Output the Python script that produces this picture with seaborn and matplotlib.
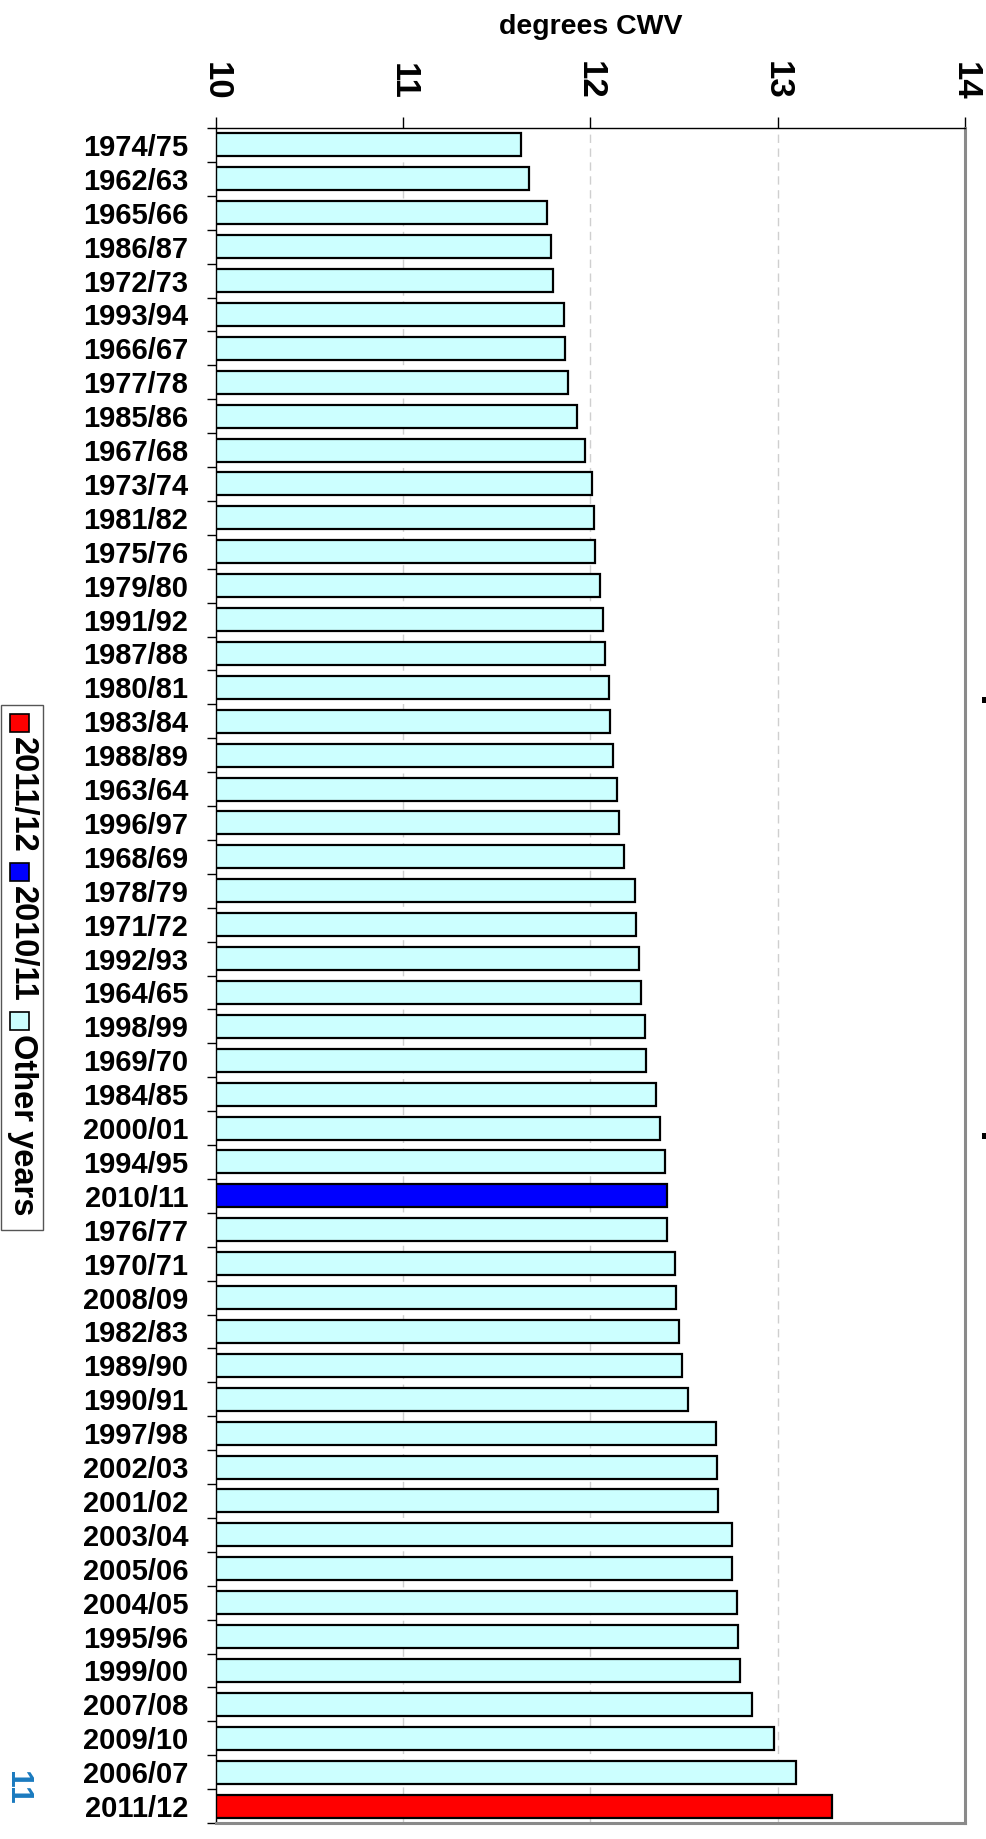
import numpy as np
import pandas as pd
import matplotlib
matplotlib.use("Agg")
import matplotlib.pyplot as plt
from matplotlib.patches import Rectangle
from matplotlib.ticker import FixedLocator
import seaborn as sns

# winters sorted from coldest (top) to mildest (bottom)
winters = ['1974/75', '1962/63', '1965/66', '1986/87', '1972/73', '1993/94', '1966/67',
           '1977/78', '1985/86', '1967/68', '1973/74', '1981/82', '1975/76', '1979/80',
           '1991/92', '1987/88', '1980/81', '1983/84', '1988/89', '1963/64', '1996/97',
           '1968/69', '1978/79', '1971/72', '1992/93', '1964/65', '1998/99', '1969/70',
           '1984/85', '2000/01', '1994/95', '2010/11', '1976/77', '1970/71', '2008/09',
           '1982/83', '1989/90', '1990/91', '1997/98', '2002/03', '2001/02', '2003/04',
           '2005/06', '2004/05', '1995/96', '1999/00', '2007/08', '2009/10', '2006/07',
           '2011/12']
cwv = [11.63, 11.67, 11.77, 11.79, 11.80, 11.86, 11.865, 11.88, 11.93, 11.97,
       12.01, 12.02, 12.025, 12.05, 12.065, 12.08, 12.10, 12.105, 12.12, 12.14,
       12.15, 12.18, 12.24, 12.245, 12.26, 12.27, 12.29, 12.295, 12.35, 12.37,
       12.40, 12.41, 12.41, 12.45, 12.455, 12.47, 12.49, 12.52, 12.67, 12.675,
       12.68, 12.755, 12.755, 12.785, 12.79, 12.80, 12.865, 12.98, 13.10, 13.29]

legend_labels = ['2011/12', '2010/11', 'Other years']
legend_colours = ['#FF0000', '#0000FF', '#CCFFFF']
x_ticks = [10, 11, 12, 13, 14]

df = pd.DataFrame({'winter': winters, 'cwv': cwv})
df['group'] = [w if w in legend_labels else 'Other years' for w in winters]

sns.set_style("white")
plt.rcParams['font.family'] = ['Liberation Sans', 'DejaVu Sans']
plt.rcParams['font.weight'] = 'bold'
plt.rcParams['text.color'] = 'black'
plt.rcParams['axes.labelcolor'] = 'black'
plt.rcParams['xtick.color'] = 'black'
plt.rcParams['ytick.color'] = 'black'

W, H = 987, 1839
fig = plt.figure(figsize=(W / 100, H / 100), dpi=100)
ax = fig.add_axes([216 / W, 1 - 1823 / H, (965 - 216) / W, (1823 - 128) / H])

sns.barplot(data=df, x='cwv', y='winter', hue='group', hue_order=legend_labels,
            palette=dict(zip(legend_labels, legend_colours)), dodge=False, width=0.68,
            saturation=1, errorbar=None, edgecolor='black', linewidth=1.6,
            legend=False, orient='h', ax=ax)

ax.set_xlim(10, 14)
ax.set_ylim(len(winters) - 0.5, -0.5)

# x axis on top, rotated labels
ax.xaxis.tick_top()
ax.xaxis.set_label_position('top')
ax.set_xticks(x_ticks)
ax.set_xticklabels([str(t) for t in x_ticks], rotation=-90, fontsize=25, fontweight='bold')
ax.tick_params(axis='x', direction='out', length=8, width=1, color='black', pad=12,
               top=True, bottom=False, labeltop=True, labelbottom=False)
ax.set_xlabel('degrees CWV', fontsize=20.5, fontweight='bold', labelpad=20)
ax.set_ylabel('')

# y labels centred, tick marks between categories
ax.tick_params(axis='y', which='major', length=0, pad=20, labelsize=21)
ax.yaxis.set_minor_locator(FixedLocator(np.arange(-0.5, len(winters), 1)))
ax.tick_params(axis='y', which='minor', direction='out', length=6.5, width=1,
               color='black', left=True)
for lab in ax.get_yticklabels():
    lab.set_fontweight('bold')

ax.grid(axis='x', which='major', color='#cfcfcf', linestyle=(0, (6, 4)), linewidth=1)
ax.set_axisbelow(True)

for s in ['top', 'left']:
    ax.spines[s].set_color('black')
    ax.spines[s].set_linewidth(1)
for s in ['right', 'bottom']:
    ax.spines[s].set_color('#8a8a8a')
    ax.spines[s].set_linewidth(2.2)

# rotated legend, built by hand
fig.canvas.draw()
renderer = fig.canvas.get_renderer()
ypix = 714
for lab, col in zip(legend_labels, legend_colours):
    fig.patches.append(Rectangle((10 / W, 1 - (ypix + 18) / H), 19 / W, 18 / H,
                                 transform=fig.transFigure, facecolor=col,
                                 edgecolor='black', linewidth=1.2))
    ypix += 23
    t = fig.text(22 / W, 1 - ypix / H, lab, rotation=-90, ha='center', va='top',
                 fontsize=23.5, fontweight='bold')
    bb = t.get_window_extent(renderer)
    ypix += bb.height + 10
box_bottom = ypix - 10 + 14
fig.patches.append(Rectangle((1 / W, 1 - box_bottom / H), 42 / W, (box_bottom - 705) / H,
                             transform=fig.transFigure, facecolor='none',
                             edgecolor='#555555', linewidth=1))

# page number and edge marks
fig.text(17 / W, 1 - 1771 / H, '11', rotation=-90, ha='center', va='top',
         fontsize=23, fontweight='bold', color='#1a7abf')
for ym in [697, 1133]:
    fig.patches.append(Rectangle((982 / W, 1 - (ym + 6) / H), 5 / W, 6 / H,
                                 transform=fig.transFigure, facecolor='black',
                                 edgecolor='none'))

fig.savefig('out.png', dpi=100)
